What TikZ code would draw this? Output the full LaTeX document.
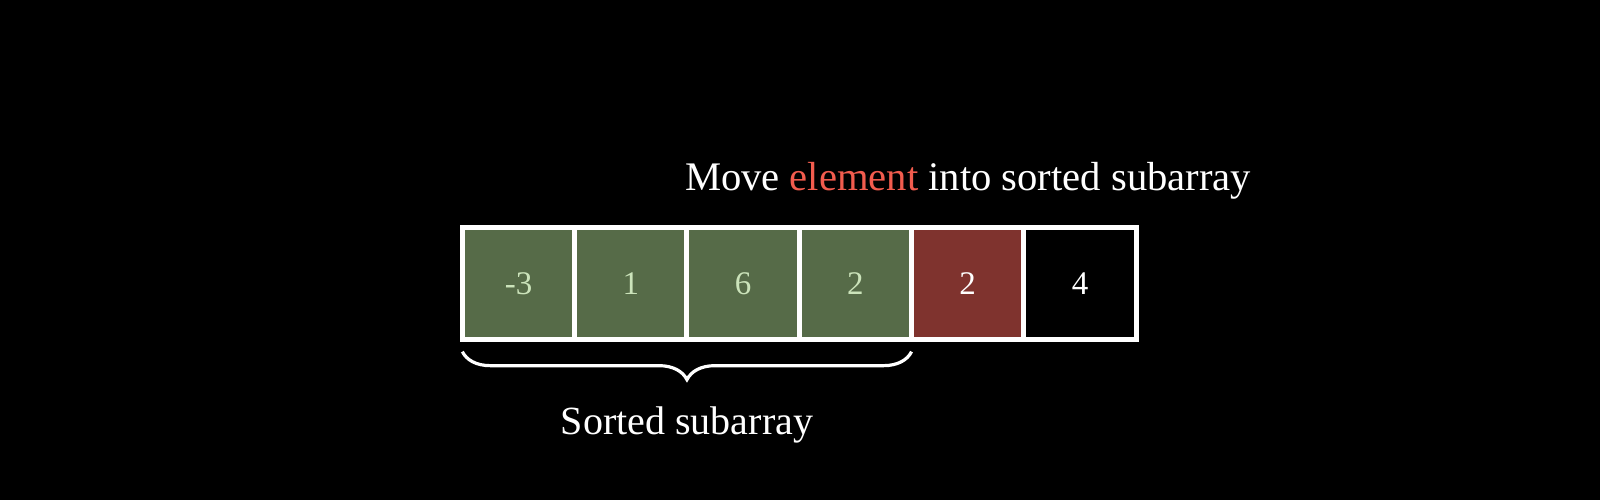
\documentclass[tikz,border=0pt]{standalone}
\usepackage{fontspec}
\setmainfont{Liberation Serif}
\usepackage{xcolor}
\usepackage{tikz}
\usetikzlibrary{positioning,decorations.pathreplacing}
\definecolor{cellgreen}{HTML}{566B48}
\definecolor{cellred}{HTML}{7F332E}
\definecolor{numgreen}{HTML}{CBE3BA}
\definecolor{hotred}{HTML}{F25C4E}

\begin{document}
\begin{tikzpicture}[
    x=0.5pt, y=-0.5pt,
    cell/.style={draw=white, line width=2.5pt, minimum size=56.15pt,
      inner sep=0pt, outer sep=0pt, font=\fontsize{16.5}{18}\selectfont},
    lbl/.style={text=white, anchor=base, inner sep=0pt}
  ]
  \fill[black] (0,0) rectangle (1600,500);

  % array cells
  \node[cell, fill=cellgreen, text=numgreen] (c1) at (518.5,283.5) {-3};
  \foreach \val/\fcol/\tcol [count=\i from 2, count=\prev from 1] in
      {1/cellgreen/numgreen, 6/cellgreen/numgreen, 2/cellgreen/numgreen,
       2/cellred/white, 4/black/white}
    \node[cell, fill=\fcol, text=\tcol, right=0pt of c\prev] (c\i) {\val};

  % sorted part
  \coordinate (bl) at ([yshift=-6pt]c1.south west);
  \coordinate (br) at ([yshift=-6pt]c4.south east);
  \draw[white, line width=1.6pt, decorate,
    decoration={brace, mirror, amplitude=14pt}] (bl) -- (br);

  \node[lbl, font=\fontsize{20}{24}\selectfont] (sorted) at (687,434) {Sorted subarray};
  \node[lbl, font=\fontsize{20.3}{24}\selectfont] (title) at (968,190)
    {Move \textcolor{hotred}{element} into sorted subarray};
\end{tikzpicture}
\end{document}
